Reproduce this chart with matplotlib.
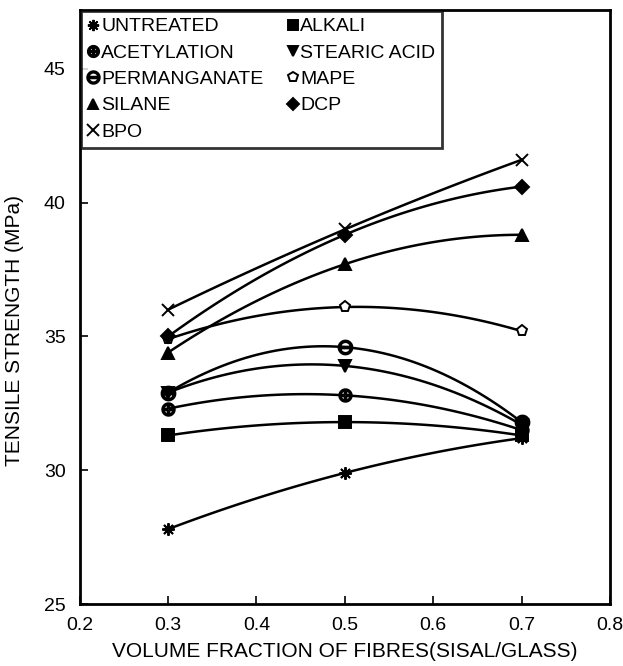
import numpy as np
import matplotlib.pyplot as plt

plt.rcParams['font.family'] = ['Liberation Sans', 'DejaVu Sans']

# data
x = [0.3, 0.5, 0.7]
untreated = [27.8, 29.9, 31.2]
alkali = [31.3, 31.8, 31.3]
acetylation = [32.3, 32.8, 31.5]
stearic = [32.9, 33.9, 31.7]
permanganate = [32.9, 34.6, 31.8]
mape = [34.9, 36.1, 35.2]
silane = [34.4, 37.7, 38.8]
dcp = [35.0, 38.8, 40.6]
bpo = [36.0, 39.0, 41.6]

series = [
    ('UNTREATED', untreated, (8, 2, 0), 'k', 9),
    ('ACETYLATION', acetylation, '$\\oplus$', 'w', 9),
    ('PERMANGANATE', permanganate, '$\\ominus$', 'w', 10),
    ('SILANE', silane, '^', 'k', 8),
    ('BPO', bpo, 'x', 'k', 9),
    ('ALKALI', alkali, 's', 'k', 8),
    ('STEARIC ACID', stearic, 'v', 'k', 8),
    ('MAPE', mape, 'p', 'w', 8),
    ('DCP', dcp, 'D', 'k', 7),
]

fig = plt.figure(figsize=(6.23, 6.66), dpi=100)
ax = fig.add_axes([0.128, 0.093, 0.851, 0.892])

xs = np.linspace(0.3, 0.7, 60)
handles = []
for name, y, mk, fc, ms in series:
    # smooth curve through the three points
    c = np.polyfit(x, y, 2)
    ax.plot(xs, np.polyval(c, xs), color='k', lw=1.8)
    h, = ax.plot(x, y, linestyle='none', marker=mk, color='k',
                 markerfacecolor=fc, markeredgecolor='k', markersize=ms,
                 markeredgewidth=1.4, label=name)
    handles.append(h)

ax.set_xlim(0.2, 0.8)
ax.set_ylim(25, 47.2)
ax.set_xticks([0.2, 0.3, 0.4, 0.5, 0.6, 0.7, 0.8])
ax.set_yticks([25, 30, 35, 40, 45])
ax.tick_params(direction='in', labelsize=14, length=6, width=1.2)
ax.tick_params(axis='x', pad=9)
ax.tick_params(axis='y', pad=10)
for s in ax.spines.values():
    s.set_linewidth(2)

ax.set_xlabel('VOLUME FRACTION OF FIBRES(SISAL/GLASS)', fontsize=15, labelpad=6)
ax.set_ylabel('TENSILE STRENGTH (MPa)', fontsize=15)
ax.yaxis.set_label_coords(-0.105, 0.46)

leg = ax.legend(handles=handles, ncol=2, loc='upper left', fontsize=14,
                frameon=True, fancybox=False, edgecolor='k',
                handlelength=0.6, handletextpad=0.1, columnspacing=1.2,
                labelspacing=0.45, borderpad=0.35, borderaxespad=0.05,
                markerscale=0.9)
leg.get_frame().set_linewidth(2)

fig.savefig('out.png', dpi=100)
